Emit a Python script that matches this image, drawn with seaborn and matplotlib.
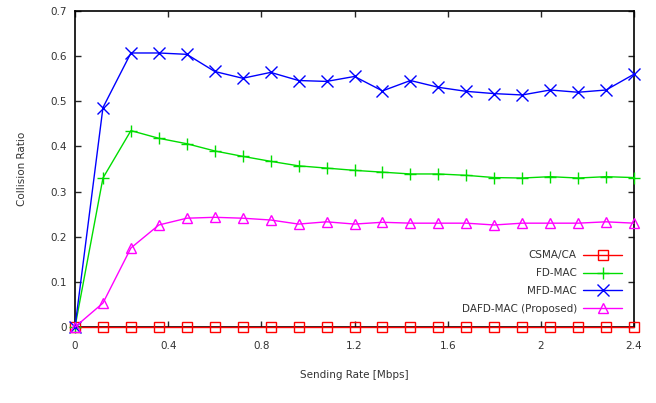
import numpy as np
import pandas as pd
import matplotlib
matplotlib.use("Agg")
import matplotlib.pyplot as plt
import seaborn as sns

x_rate = [0.00, 0.12, 0.24, 0.36, 0.48, 0.60, 0.72, 0.84, 0.96, 1.08, 1.20,
          1.32, 1.44, 1.56, 1.68, 1.80, 1.92, 2.04, 2.16, 2.28, 2.40]
csma = [0.0] * 21
fd_mac = [0.0, 0.330, 0.435, 0.418, 0.406, 0.390, 0.378, 0.367, 0.357, 0.352, 0.347,
          0.343, 0.339, 0.339, 0.336, 0.331, 0.330, 0.333, 0.330, 0.333, 0.331]
mfd_mac = [0.0, 0.486, 0.607, 0.607, 0.604, 0.566, 0.551, 0.564, 0.546, 0.544, 0.555,
           0.523, 0.546, 0.531, 0.522, 0.517, 0.514, 0.525, 0.520, 0.525, 0.560]
dafd_mac = [0.0, 0.053, 0.175, 0.226, 0.241, 0.243, 0.241, 0.237, 0.228, 0.233, 0.228,
            0.232, 0.230, 0.230, 0.230, 0.226, 0.230, 0.230, 0.230, 0.233, 0.230]
series_names = ["CSMA/CA", "FD-MAC", "MFD-MAC", "DAFD-MAC (Proposed)"]
x_ticks = [0, 0.4, 0.8, 1.2, 1.6, 2.0, 2.4]
x_tick_labels = ["0", "0.4", "0.8", "1.2", "1.6", "2", "2.4"]
y_ticks = [0, 0.1, 0.2, 0.3, 0.4, 0.5, 0.6, 0.7]
y_tick_labels = ["0", "0.1", "0.2", "0.3", "0.4", "0.5", "0.6", "0.7"]

sns.set_style("ticks")
plt.rcParams['font.family'] = ['DejaVu Sans']

fig = plt.figure(figsize=(6.56, 4.03), dpi=100)
ax = fig.add_axes([75/656, 76/403, 559/656, 316/403])

colors = ["#ff0000", "#00dd00", "#0000ff", "#ff00ff"]
markers = ["s", "+", "x", "^"]
msizes = [7, 9, 8.5, 7]
data_list = [csma, fd_mac, mfd_mac, dafd_mac]

for name, vals, c, m, ms in zip(series_names, data_list, colors, markers, msizes):
    df = pd.DataFrame({"x": x_rate, "y": vals})
    mfc = "none" if m in ("s", "^") else c
    sns.lineplot(data=df, x="x", y="y", ax=ax, color=c, marker=m, markersize=ms,
                 markerfacecolor=mfc, markeredgecolor=c, markeredgewidth=1.0,
                 linewidth=1.0, label=name, clip_on=False, zorder=3)

ax.set_xlim(0, 2.4)
ax.set_ylim(0, 0.7)
ax.set_xticks(x_ticks)
ax.set_xticklabels(x_tick_labels)
ax.set_yticks(y_ticks)
ax.set_yticklabels(y_tick_labels)
ax.tick_params(direction="in", top=True, right=True, length=4, width=1,
               labelsize=7.5, labelcolor="#333333")
ax.tick_params(axis="x", pad=10)
ax.tick_params(axis="y", pad=6)
for s in ax.spines.values():
    s.set_visible(True)
    s.set_linewidth(1.2)
    s.set_color("black")
ax.set_xlabel("Sending Rate [Mbps]", fontsize=7.5, color="#333333", labelpad=14)
ax.set_ylabel("Collision Ratio", fontsize=7.5, color="#333333", labelpad=17)

leg = ax.legend(loc="lower right", bbox_to_anchor=(0.99, 0.022), markerfirst=False,
                frameon=False, fontsize=7.5, handlelength=3.75, labelspacing=0.75,
                handletextpad=0.6, borderaxespad=0.2)
for t in leg.get_texts():
    t.set_color("#333333")

fig.savefig("out.png", dpi=100)
